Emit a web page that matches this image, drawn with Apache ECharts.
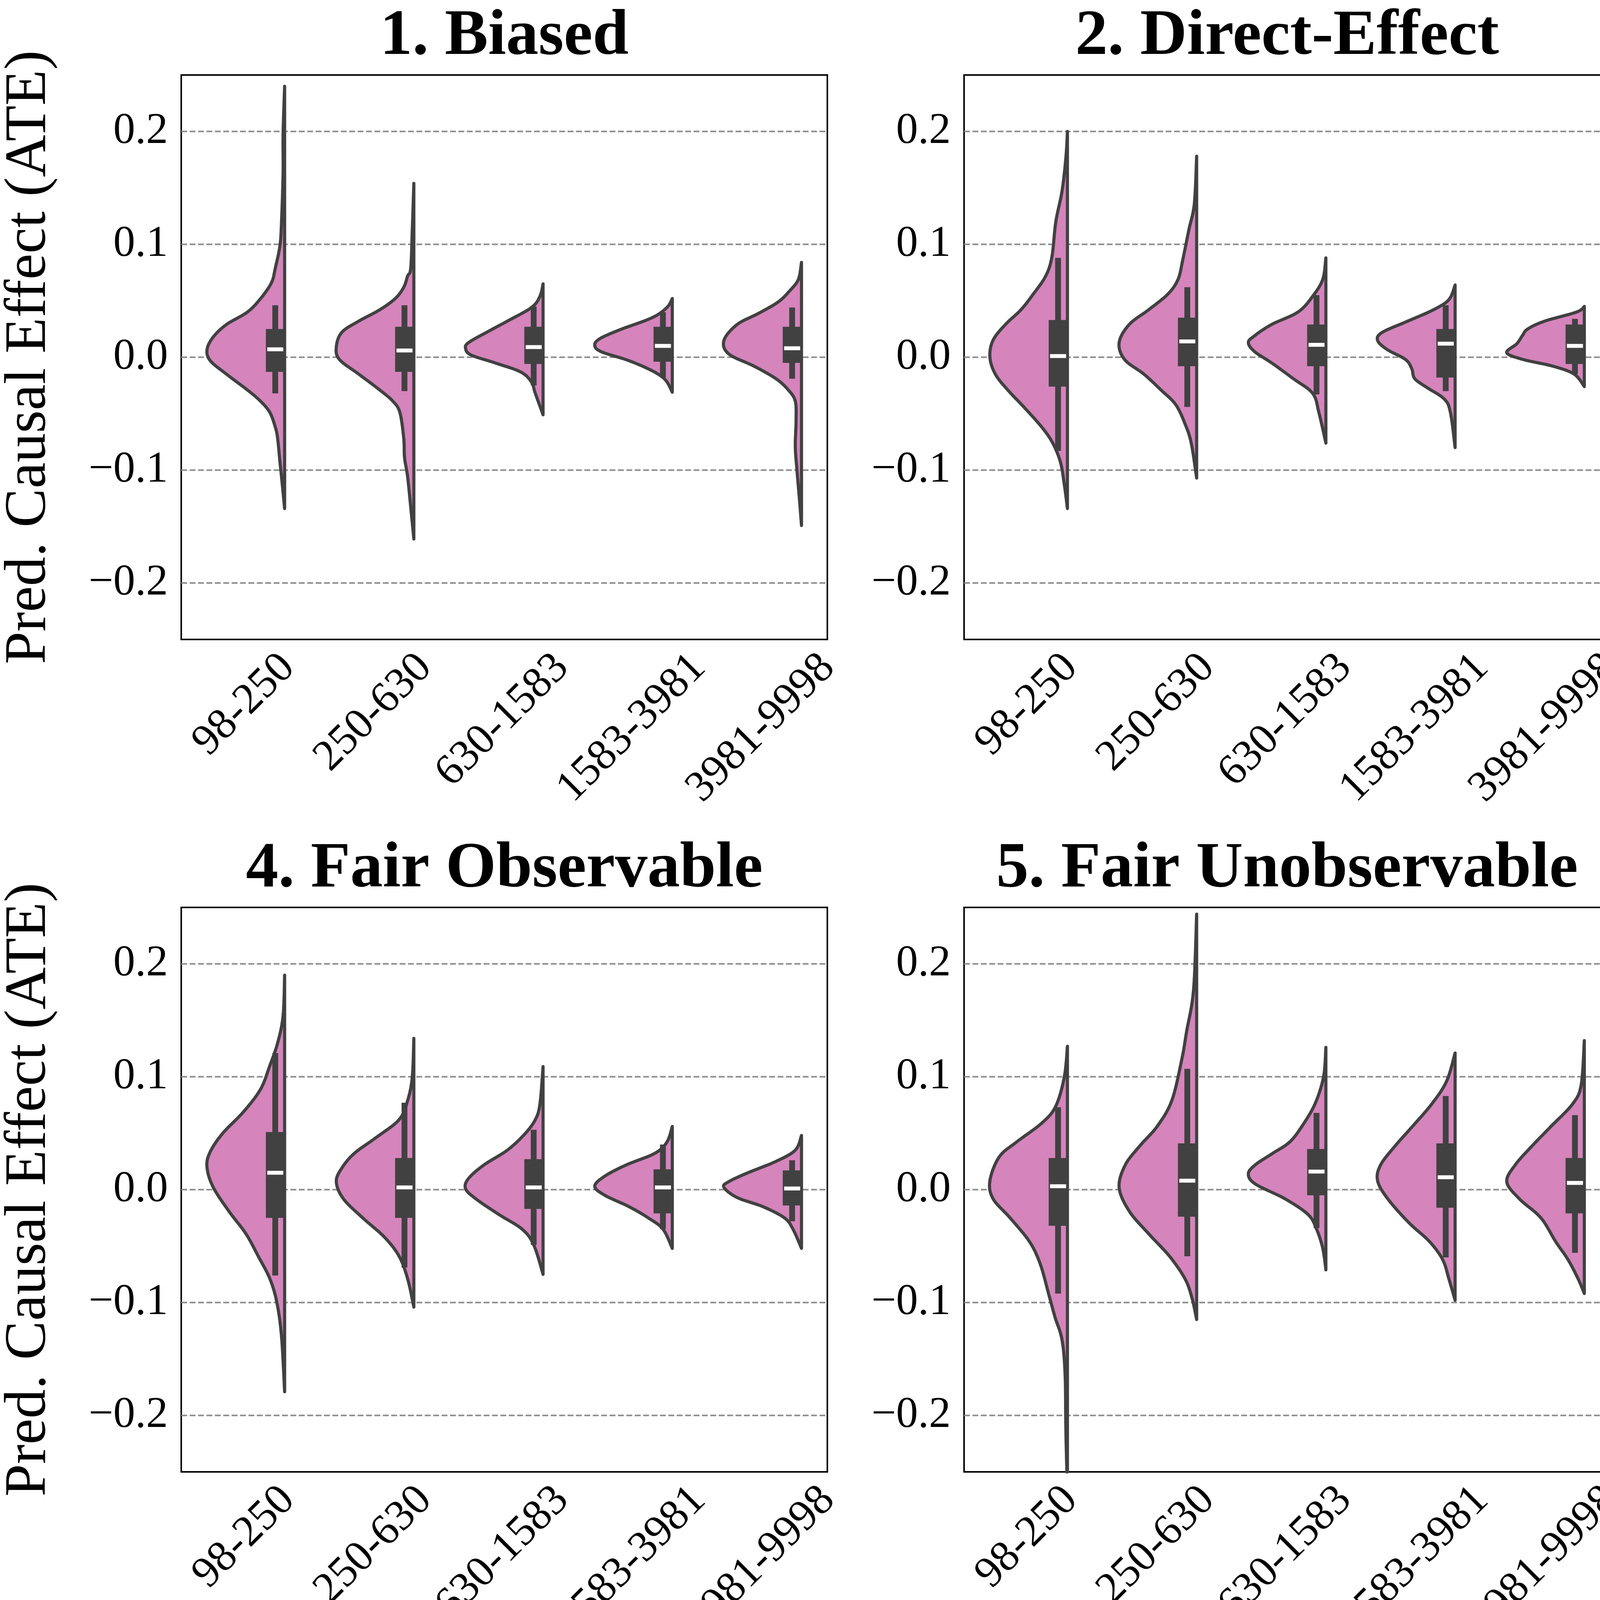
<!DOCTYPE html>
<html><head><meta charset="utf-8">
<script src="https://cdn.jsdelivr.net/npm/echarts@6/dist/echarts.min.js"></script>
<style>html,body{margin:0;padding:0;background:#fff}#c{width:6194px;height:4416px}</style>
</head><body><div id="c"></div>
<script>
// ---------------- data ----------------
const categories = ['98-250', '250-630', '630-1583', '1583-3981', '3981-9998'];
const panelTitles = ['1. Biased', '2. Direct-Effect', '3. Indirect-Effect',
                     '4. Fair Observable', '5. Fair Unobservable', '6. Fair Additive Noise'];
const yTicks = [-0.2, -0.1, 0.0, 0.1, 0.2];
const yLabel = 'Pred. Causal Effect (ATE)';
const xLabel = 'Dataset Size';

// density profiles: [value, relative half-width] from top to bottom, one list per category
const biasedProfiles = [
  [[.240,0],[.197,.02],[.163,.02],[.120,.04],[.099,.06],[.079,.12],[.066,.17],[.052,.31],[.040,.48],[.029,.75],[.018,.92],[.007,1],[-.003,.96],[-.015,.75],[-.029,.48],[-.039,.31],[-.049,.19],[-.062,.12],[-.072,.09],[-.093,.06],[-.106,.04],[-.134,0]],
  [[.154,0],[.113,.02],[.079,.04],[.072,.08],[.062,.13],[.052,.24],[.042,.44],[.032,.71],[.022,.93],[.009,1],[-.002,.96],[-.015,.71],[-.029,.44],[-.039,.27],[-.049,.18],[-.072,.13],[-.089,.12],[-.106,.08],[-.140,.03],[-.161,0]],
  [[.065,0],[.054,.04],[.044,.15],[.032,.46],[.022,.73],[.013,.96],[.008,1],[.002,.93],[-.005,.62],[-.013,.29],[-.022,.15],[-.032,.10],[-.051,0]],
  [[.052,0],[.044,.07],[.035,.26],[.025,.65],[.017,.92],[.011,1],[.005,.92],[-.003,.56],[-.012,.26],[-.020,.09],[-.031,0]],
  [[.084,0],[.069,.04],[.059,.15],[.049,.30],[.039,.55],[.029,.83],[.015,1],[.003,.94],[-.008,.61],[-.019,.33],[-.029,.17],[-.039,.08],[-.056,.07],[-.079,.08],[-.099,.06],[-.123,.03],[-.149,0]]
];
// box stats: [lower whisker, q1, median, q3, upper whisker]
const biasedBoxes = [[-.032,-.013,.007,.025,.046],[-.030,-.013,.006,.027,.046],[-.025,-.006,.009,.027,.045],[-.018,-.004,.010,.027,.040],[-.019,-.005,.008,.027,.044]];

const directProfiles = [
  [[.200,0],[.177,.02],[.147,.07],[.120,.15],[.089,.20],[.072,.28],[.056,.44],[.042,.60],[.029,.80],[.015,.96],[0,1],[-.015,.93],[-.029,.77],[-.045,.55],[-.062,.33],[-.076,.19],[-.093,.09],[-.113,.04],[-.134,0]],
  [[.178,0],[.136,.03],[.113,.10],[.086,.18],[.069,.24],[.056,.37],[.042,.62],[.029,.87],[.013,1],[-.002,.93],[-.015,.68],[-.029,.46],[-.042,.27],[-.059,.15],[-.076,.07],[-.107,0]],
  [[.088,0],[.069,.04],[.054,.17],[.040,.36],[.029,.70],[.019,.92],[.013,1],[.005,.92],[-.005,.70],[-.019,.42],[-.032,.17],[-.049,.09],[-.076,0]],
  [[.064,0],[.051,.08],[.042,.28],[.032,.61],[.022,.94],[.015,1],[.007,.88],[-.002,.64],[-.010,.56],[-.019,.52],[-.027,.36],[-.037,.14],[-.049,.06],[-.080,0]],
  [[.045,0],[.040,.10],[.032,.51],[.025,.73],[.019,.80],[.012,.87],[.004,1],[-.002,.79],[-.008,.40],[-.015,.13],[-.026,0]]
];
const directBoxes = [[-.083,-.026,.001,.033,.088],[-.044,-.008,.014,.035,.062],[-.033,-.008,.011,.029,.055],[-.030,-.018,.012,.025,.046],[-.015,-.006,.010,.029,.034]];

const indirectProfiles = [
  [[.149,0],[.116,.06],[.096,.11],[.072,.26],[.052,.48],[.032,.78],[.019,.94],[.006,1],[-.008,.90],[-.025,.67],[-.045,.40],[-.066,.26],[-.086,.15],[-.110,.08],[-.130,.04],[-.156,0]],
  [[.074,0],[.059,.04],[.045,.17],[.032,.48],[.022,.78],[.012,.97],[.005,1],[-.005,.86],[-.019,.53],[-.032,.28],[-.049,.14],[-.072,.08],[-.110,0]],
  [[.041,0],[.029,.09],[.024,.23],[.015,.56],[.008,.89],[.004,1],[-.002,.83],[-.008,.50],[-.015,.23],[-.025,.10],[-.048,0]],
  [[.035,0],[.024,.08],[.017,.35],[.008,.80],[.002,1],[-.005,.80],[-.012,.46],[-.019,.36],[-.027,.30],[-.034,.16],[-.042,.05],[-.061,0]],
  [[.031,0],[.024,.09],[.017,.37],[.010,.76],[.004,1],[-.002,.76],[-.007,.37],[-.014,.12],[-.020,.06],[-.029,.06],[-.042,0]]
];
const indirectBoxes = [[-.068,-.023,.007,.029,.067],[-.034,-.014,.004,.020,.037],[-.019,-.012,.003,.015,.026],[-.032,-.018,.001,.012,.022],[-.017,-.008,.004,.016,.023]];

const observableProfiles = [
  [[.190,0],[.154,.02],[.130,.09],[.110,.19],[.089,.31],[.069,.53],[.049,.81],[.032,.97],[.019,1],[.002,.92],[-.019,.72],[-.039,.50],[-.059,.34],[-.079,.19],[-.100,.10],[-.130,.04],[-.179,0]],
  [[.134,0],[.100,.02],[.079,.08],[.062,.19],[.046,.49],[.032,.77],[.019,.93],[.007,1],[-.008,.91],[-.025,.66],[-.042,.38],[-.059,.19],[-.079,.08],[-.104,0]],
  [[.109,0],[.076,.04],[.062,.10],[.049,.24],[.035,.46],[.022,.76],[.010,.96],[.001,1],[-.008,.87],[-.022,.57],[-.035,.27],[-.049,.12],[-.075,0]],
  [[.056,0],[.042,.07],[.032,.23],[.022,.59],[.012,.87],[.003,1],[-.005,.87],[-.015,.56],[-.025,.31],[-.035,.12],[-.052,0]],
  [[.048,0],[.035,.08],[.025,.33],[.015,.69],[.007,.94],[.002,1],[-.007,.83],[-.015,.50],[-.025,.22],[-.035,.11],[-.052,0]]
];
const observableBoxes = [[-.076,-.025,.015,.051,.121],[-.069,-.025,.002,.028,.077],[-.049,-.017,.002,.027,.053],[-.035,-.021,.002,.018,.040],[-.028,-.014,.001,.017,.026]];

const unobservableProfiles = [
  [[.127,0],[.100,.04],[.074,.15],[.059,.33],[.042,.66],[.029,.88],[.008,1],[-.008,.96],[-.025,.74],[-.046,.49],[-.066,.35],[-.093,.24],[-.113,.16],[-.133,.07],[-.164,.03],[-.214,.02],[-.270,0]],
  [[.244,0],[.177,.04],[.140,.13],[.116,.19],[.079,.32],[.056,.51],[.039,.73],[.022,.92],[.002,1],[-.019,.87],[-.039,.62],[-.059,.35],[-.079,.15],[-.096,.06],[-.115,0]],
  [[.126,0],[.100,.03],[.076,.14],[.056,.31],[.042,.47],[.032,.69],[.022,.91],[.014,1],[.005,.91],[-.008,.53],[-.022,.23],[-.035,.12],[-.052,.04],[-.071,0]],
  [[.121,0],[.096,.11],[.076,.30],[.056,.55],[.039,.77],[.022,.96],[.008,1],[-.008,.87],[-.029,.60],[-.046,.33],[-.062,.16],[-.079,.08],[-.098,0]],
  [[.132,0],[.093,.04],[.076,.15],[.056,.43],[.039,.67],[.022,.89],[.007,1],[-.008,.84],[-.025,.56],[-.046,.37],[-.062,.21],[-.079,.08],[-.092,0]]
];
const unobservableBoxes = [[-.092,-.032,.003,.028,.073],[-.059,-.024,.008,.041,.107],[-.034,-.005,.016,.036,.068],[-.060,-.016,.011,.041,.083],[-.056,-.021,.006,.028,.066]];

const additiveProfiles = [
  [[.270,0],[.181,.04],[.150,.12],[.113,.29],[.079,.56],[.049,.84],[.022,.98],[.010,1],[-.012,.95],[-.039,.73],[-.066,.51],[-.093,.29],[-.113,.15],[-.147,.05],[-.185,0]],
  [[.203,0],[.157,.04],[.110,.23],[.083,.42],[.056,.70],[.035,.92],[.019,1],[.002,.86],[-.019,.53],[-.035,.31],[-.052,.14],[-.079,.09],[-.113,.03],[-.143,0]],
  [[.150,0],[.116,.04],[.083,.20],[.062,.39],[.042,.67],[.029,.89],[.016,1],[.002,.83],[-.019,.45],[-.035,.25],[-.052,.20],[-.079,.14],[-.113,.06],[-.149,0]],
  [[.099,0],[.079,.08],[.059,.32],[.042,.67],[.025,.94],[.015,1],[-.002,.84],[-.022,.51],[-.035,.32],[-.052,.27],[-.069,.21],[-.093,.08],[-.123,0]],
  [[.112,0],[.089,.07],[.073,.26],[.056,.65],[.042,.89],[.029,1],[.015,.87],[.002,.59],[-.015,.34],[-.032,.23],[-.046,.19],[-.066,.12],[-.092,0]]
];
const additiveBoxes = [[-.113,-.034,.009,.052,.134],[-.052,-.001,.021,.058,.102],[-.021,-.004,.012,.040,.071],[-.057,-.011,.008,.039,.060],[-.043,-.003,.023,.048,.079]];

// ---------------- layout / style ----------------
const FONT = '"Liberation Serif", "Times New Roman", Times, serif';
const FILL = '#d584bc', EDGE = '#414141';
const gridLefts = [464, 2468, 4470], gridTops = [192, 2323];
const gridW = 1654, gridH = 1445;
const tickFont = 112, titleFont = 166, labelFont = 150;

const panelData = [
  [biasedProfiles, biasedBoxes], [directProfiles, directBoxes], [indirectProfiles, indirectBoxes],
  [observableProfiles, observableBoxes], [unobservableProfiles, unobservableBoxes], [additiveProfiles, additiveBoxes]
];

const measureCtx = document.createElement('canvas').getContext('2d');
function textWidth(t, font) { measureCtx.font = font; return measureCtx.measureText(t).width; }

function catmull(pts, n) {
  const out = [];
  for (let i = 0; i < pts.length - 1; i++) {
    const p0 = pts[Math.max(i - 1, 0)], p1 = pts[i], p2 = pts[i + 1], p3 = pts[Math.min(i + 2, pts.length - 1)];
    for (let s = 0; s < n; s++) {
      const t = s / n, t2 = t * t, t3 = t2 * t;
      const f = k => 0.5 * (2 * p1[k] + (-p0[k] + p2[k]) * t + (2 * p0[k] - 5 * p1[k] + 4 * p2[k] - p3[k]) * t2 + (-p0[k] + 3 * p1[k] - 3 * p2[k] + p3[k]) * t3);
      out.push([f(0), f(1)]);
    }
  }
  out.push(pts[pts.length - 1]);
  return out;
}

const grids = [], xAxes = [], yAxes = [], series = [], graphic = [];

panelData.forEach((pd, p) => {
  const r = Math.floor(p / 3), c = p % 3;
  const left = gridLefts[c], top = gridTops[r];
  grids.push({ left, top, width: gridW, height: gridH, show: true, borderColor: '#000', borderWidth: 4, backgroundColor: '#fff' });
  xAxes.push({ type: 'category', gridIndex: p, data: categories, boundaryGap: true,
    axisLine: { show: false }, axisTick: { show: false }, axisLabel: { show: false }, splitLine: { show: false } });
  yAxes.push({ type: 'value', gridIndex: p, min: -0.25, max: 0.25, interval: 0.05,
    axisLine: { show: false }, axisTick: { show: false }, splitLine: { show: false },
    axisLabel: { fontSize: tickFont, fontFamily: FONT, color: '#000', margin: 34,
      formatter: v => { const k = Math.round(v * 20); if (k % 2 !== 0) return ''; return (k / 20).toFixed(1).replace('-', '\u2212'); } } });

  // dashed horizontal grid lines at the tick values
  series.push({ type: 'custom', xAxisIndex: p, yAxisIndex: p, z: 1, silent: true,
    data: yTicks.map(v => [0, v]), encode: { x: 0, y: 1 },
    renderItem: (params, api) => {
      const cs = params.coordSys; const y = api.coord([0, api.value(1)])[1];
      return { type: 'line', shape: { x1: cs.x, y1: y, x2: cs.x + cs.width, y2: y },
        style: { stroke: '#8c8c8c', lineWidth: 4, lineDash: [15, 6.5] } };
    } });

  const profiles = pd[0], boxes = pd[1];
  series.push({ type: 'custom', xAxisIndex: p, yAxisIndex: p, z: 2, silent: true,
    data: categories.map((_, i) => [i, 0]), encode: { x: 0, y: 1 },
    renderItem: (params, api) => {
      const i = api.value(0); const cs = params.coordSys;
      const band = api.size([1, 0])[0];
      const cx = api.coord([i, 0])[0];
      const spine = cx + 0.3 * band, hw = 0.6 * band;
      const yTop = cs.y, yBot = cs.y + cs.height;
      const clampY = y => Math.min(yBot, Math.max(yTop, y));
      const raw = profiles[i].map(([v, w]) => [spine - w * hw, api.coord([i, v])[1]]);
      const pts = catmull(raw, 10).map(([x, y]) => [Math.min(spine, x), clampY(y)]);
      const b = boxes[i];
      const yq = v => api.coord([i, v])[1];
      const boxW = 0.145 * band, whW = 0.045 * band, medW = 0.124 * band;
      const bc = spine - boxW / 2;
      return { type: 'group', children: [
        { type: 'polygon', shape: { points: pts }, style: { fill: FILL, stroke: EDGE, lineWidth: 8, lineJoin: 'round' } },
        { type: 'rect', shape: { x: bc - whW / 2, y: yq(b[4]), width: whW, height: yq(b[0]) - yq(b[4]) }, style: { fill: EDGE } },
        { type: 'rect', shape: { x: spine - boxW, y: yq(b[3]), width: boxW, height: yq(b[1]) - yq(b[3]) }, style: { fill: EDGE } },
        { type: 'rect', shape: { x: bc - medW / 2, y: yq(b[2]) - 5, width: medW, height: 10 }, style: { fill: '#ffffff' } }
      ] };
    } });

  // rotated category labels, bounding box centred under each category
  series.push({ type: 'custom', xAxisIndex: p, yAxisIndex: p, z: 3, silent: true, clip: false,
    data: categories.map((_, i) => [i, 0]), encode: { x: 0, y: 1 },
    renderItem: (params, api) => {
      const i = api.value(0); const cs = params.coordSys;
      const cx = api.coord([i, 0])[0];
      const font = tickFont + 'px ' + FONT;
      const L = textWidth(categories[i], font);
      const cy = cs.y + cs.height + 28 + (L + 0.7 * tickFont) / (2 * Math.SQRT2);
      return { type: 'text', x: cx - 4, y: cy, rotation: Math.PI / 4,
        style: { text: categories[i], font, fill: '#000', textAlign: 'center', textVerticalAlign: 'middle' } };
    } });

  // panel title
  graphic.push({ type: 'text', x: left + gridW / 2, y: top - 97,
    style: { text: panelTitles[p], font: 'bold ' + titleFont + 'px ' + FONT, fill: '#000', textAlign: 'center', textVerticalAlign: 'middle' } });
  if (c === 0) {
    graphic.push({ type: 'text', x: 76, y: top + gridH / 2, rotation: Math.PI / 2,
      style: { text: yLabel, font: labelFont + 'px ' + FONT, fill: '#000', textAlign: 'center', textVerticalAlign: 'middle' } });
  }
  if (r === 1) {
    graphic.push({ type: 'text', x: left + gridW / 2, y: top + gridH + 537,
      style: { text: xLabel, font: labelFont + 'px ' + FONT, fill: '#000', textAlign: 'center', textVerticalAlign: 'middle' } });
  }
});

const chart = echarts.init(document.getElementById('c'), null, { renderer: 'canvas', devicePixelRatio: 1 });
chart.setOption({ backgroundColor: '#fff', animation: false, grid: grids, xAxis: xAxes, yAxis: yAxes, series, graphic });
</script>
</body></html>
